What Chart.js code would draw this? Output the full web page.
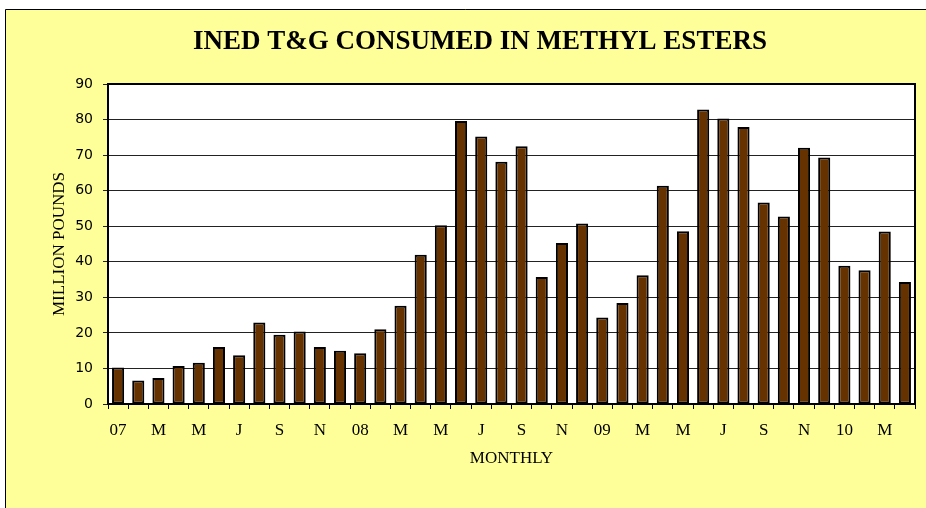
<!DOCTYPE html>
<html>
<head>
<meta charset="utf-8">
<script src="https://cdn.jsdelivr.net/npm/chart.js@4.4.1/dist/chart.umd.min.js"></script>
<style>
  html, body { margin: 0; padding: 0; background: #fff; overflow: hidden; }
  #wrap { position: relative; width: 926px; height: 508px; }
</style>
</head>
<body>
<div id="wrap"><canvas id="chart" width="926" height="508"></canvas></div>
<script>
// monthly, Jan 2007 .. Apr 2010
const months = [
    '07', '', 'M', '', 'M', '', 'J', '', 'S', '', 'N', '',
    '08', '', 'M', '', 'M', '', 'J', '', 'S', '', 'N', '',
    '09', '', 'M', '', 'M', '', 'J', '', 'S', '', 'N', '',
    '10', '', 'M', ''
];
const consumed = [
    10.3, 6.6, 7.3, 10.7, 11.6, 16.0, 13.7, 22.9, 19.5, 20.4, 16.0, 15.0,
    14.3, 21.0, 27.6, 42.0, 50.3, 79.6, 75.2, 68.1, 72.5, 35.7, 45.3, 50.8,
    24.3, 28.4, 36.2, 61.4, 48.6, 82.8, 80.3, 77.9, 56.7, 52.7, 72.1, 69.3,
    38.9, 37.6, 48.5, 34.3
];
const yTicks = [0, 10, 20, 30, 40, 50, 60, 70, 80, 90];

const serif = '"Liberation Serif", "Times New Roman", serif';

// yellow panel + white plot area + plot frame
const framePlugin = {
    id: 'frame',
    beforeDraw(chart) {
        const ctx = chart.ctx;
        const area = chart.chartArea;
        ctx.save();
        ctx.fillStyle = '#ffffff';
        ctx.fillRect(0, 0, chart.width, chart.height);
        ctx.fillStyle = '#ffff99';
        ctx.fillRect(5, 9, chart.width, chart.height);
        ctx.strokeStyle = '#000';
        ctx.lineWidth = 1;
        ctx.beginPath();
        ctx.moveTo(5.5, chart.height);
        ctx.lineTo(5.5, 9.5);
        ctx.lineTo(chart.width, 9.5);
        ctx.stroke();
        ctx.fillStyle = '#ffffff';
        ctx.fillRect(area.left, area.top, area.right - area.left, area.bottom - area.top);
        ctx.restore();
    },
    afterDraw(chart) {
        const ctx = chart.ctx;
        const area = chart.chartArea;
        ctx.save();
        ctx.strokeStyle = '#000';
        ctx.lineWidth = 2;
        ctx.strokeRect(area.left, area.top, area.right - area.left, area.bottom - area.top);
        ctx.restore();
    }
};

new Chart(document.getElementById('chart').getContext('2d'), {
    type: 'bar',
    data: {
        labels: months,
        datasets: [{
            data: consumed,
            backgroundColor: '#663300',
            borderColor: '#000000',
            borderWidth: 2,
            borderSkipped: false,
            barPercentage: 0.6,
            categoryPercentage: 1.0
        }]
    },
    options: {
        responsive: false,
        animation: false,
        layout: { padding: { left: 45, right: 11, top: 0, bottom: 35 } },
        plugins: {
            legend: { display: false },
            tooltip: { enabled: false },
            title: {
                display: true,
                text: 'INED T&G CONSUMED IN METHYL ESTERS',
                color: '#000',
                font: { family: serif, size: 27, weight: 'bold' },
                padding: { top: 26, bottom: 25.6 }
            }
        },
        scales: {
            x: {
                offset: true,
                grid: {
                    offset: true,
                    drawOnChartArea: false,
                    drawTicks: true,
                    tickLength: 5,
                    color: '#000'
                },
                border: { color: '#000', width: 2 },
                ticks: {
                    autoSkip: false,
                    maxRotation: 0,
                    minRotation: 0,
                    padding: 11,
                    color: '#000',
                    font: { family: serif, size: 17 }
                },
                title: {
                    display: true,
                    text: 'MONTHLY',
                    color: '#000',
                    font: { family: serif, size: 17 }
                },
                afterFit(scale) { scale.height = 69; }
            },
            y: {
                min: 0,
                max: 90,
                afterBuildTicks(scale) { scale.ticks = yTicks.map(v => ({ value: v })); },
                grid: {
                    color: '#222',
                    lineWidth: 1,
                    drawTicks: true,
                    tickLength: 5
                },
                border: { color: '#000', width: 2 },
                ticks: {
                    padding: 10,
                    color: '#000',
                    font: { family: '"DejaVu Sans", Verdana, sans-serif', size: 14 }
                },
                title: {
                    display: true,
                    text: 'MILLION POUNDS',
                    color: '#000',
                    font: { family: serif, size: 17 }
                },
                afterFit(scale) { scale.width = 63; }
            }
        }
    },
    plugins: [framePlugin]
});
</script>
</body>
</html>
